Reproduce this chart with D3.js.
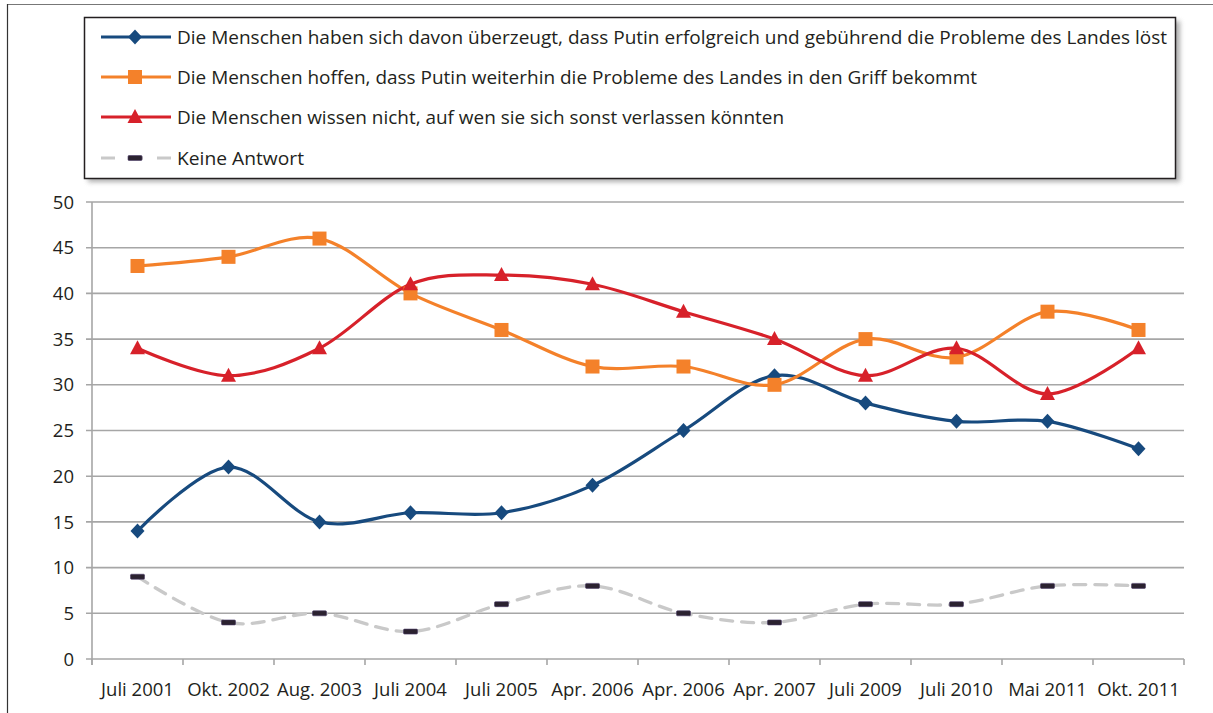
<!DOCTYPE html>
<html><head><meta charset="utf-8">
<script src="https://cdn.jsdelivr.net/npm/d3@7"></script>
<style>body{margin:0;background:#fff}svg{display:block}text{font-family:"Open Sans","Noto Sans",sans-serif;fill:#231f20}</style>
</head><body><svg id="c" width="1213" height="713"></svg>
<script>
const categories = ["Juli 2001","Okt. 2002","Aug. 2003","Juli 2004","Juli 2005","Apr. 2006","Apr. 2006","Apr. 2007","Juli 2009","Juli 2010","Mai 2011","Okt. 2011"];
const seriesNames = [
 "Die Menschen haben sich davon überzeugt, dass Putin erfolgreich und gebührend die Probleme des Landes löst",
 "Die Menschen hoffen, dass Putin weiterhin die Probleme des Landes in den Griff bekommt",
 "Die Menschen wissen nicht, auf wen sie sich sonst verlassen könnten",
 "Keine Antwort"];
const ueberzeugt = [14,21,15,16,16,19,25,31,28,26,26,23];
const hoffen = [43,44,46,40,36,32,32,30,35,33,38,36];
const wissenNicht = [34,31,34,41,42,41,38,35,31,34,29,34];
const keineAntwort = [9,4,5,3,6,8,5,4,6,6,8,8];
const yTicks = [0,5,10,15,20,25,30,35,40,45,50];

const series = [
 {name:seriesNames[0], values:ueberzeugt, color:"#174a7e", marker:"diamond"},
 {name:seriesNames[1], values:hoffen, color:"#f4812a", marker:"square"},
 {name:seriesNames[2], values:wissenNicht, color:"#d7212a", marker:"triangle"},
 {name:seriesNames[3], values:keineAntwort, color:"#c9c9c9", marker:"dash", dashed:true}
];

const svg = d3.select("#c");
const defs = svg.append("defs");
const f = defs.append("filter").attr("id","sh").attr("x","-5%").attr("y","-20%").attr("width","110%").attr("height","140%");
f.append("feGaussianBlur").attr("stdDeviation",2.5);

// outer frame
svg.append("line").attr("x1",7).attr("x2",1213).attr("y1",4.5).attr("y2",4.5).attr("stroke","#777").attr("stroke-width",1.2);
svg.append("line").attr("x1",7.5).attr("x2",7.5).attr("y1",4).attr("y2",713).attr("stroke","#333").attr("stroke-width",1.2);

const L=92,R=1184,T=202,B=659;
const x = d3.scaleBand().domain(d3.range(categories.length)).range([L,R]);
const y = d3.scaleLinear().domain([0,50]).range([B,T]);
const cx = i => x(i)+x.bandwidth()/2;

// gridlines
svg.append("g").selectAll("line").data(yTicks).join("line")
 .attr("x1",L-6).attr("x2",R).attr("y1",d=>y(d)).attr("y2",d=>y(d))
 .attr("stroke","#a6a6a6").attr("stroke-width",1.6);
// y axis line
svg.append("line").attr("x1",L).attr("x2",L).attr("y1",T).attr("y2",B+6).attr("stroke","#a6a6a6").attr("stroke-width",1.6);
// x ticks
const bounds = d3.range(categories.length+1).map(i=> i<categories.length? x(i): R);
svg.append("g").selectAll("line").data(bounds).join("line")
 .attr("x1",d=>d).attr("x2",d=>d).attr("y1",B).attr("y2",B+6).attr("stroke","#a6a6a6").attr("stroke-width",1.6);
// y labels
svg.append("g").selectAll("text").data(yTicks).join("text")
 .attr("x",74).attr("y",d=>y(d)).attr("dy","0.36em").attr("text-anchor","end").attr("font-size",18.5).text(d=>d);
// x labels
svg.append("g").selectAll("text").data(categories).join("text")
 .attr("x",(d,i)=>cx(i)).attr("y",696).attr("text-anchor","middle").attr("font-size",18.5).text(d=>d);

function drawMarker(g, type, color, px, py){
 if(type==="diamond"){
  g.append("path").attr("d",`M${px},${py-7.5}L${px+7},${py}L${px},${py+7.5}L${px-7},${py}Z`).attr("fill",color);
 } else if(type==="square"){
  g.append("rect").attr("x",px-7).attr("y",py-7).attr("width",14).attr("height",14).attr("fill",color);
 } else if(type==="triangle"){
  g.append("path").attr("d",`M${px},${py-8}L${px+7.5},${py+6}L${px-7.5},${py+6}Z`).attr("fill",color);
 } else {
  g.append("rect").attr("x",px-7).attr("y",py-2.5).attr("width",14).attr("height",5).attr("rx",1).attr("fill","#2b2230").attr("stroke","#4a3a66").attr("stroke-width",0.6);
 }
}

const line = d3.line().x((d,i)=>cx(i)).y(d=>y(d)).curve(d3.curveCardinal.tension(0));
const order=[3,0,1,2];
order.forEach(k=>{
 const s=series[k];
 svg.append("path").attr("d",line(s.values)).attr("fill","none").attr("stroke",s.color)
  .attr("stroke-width",s.dashed?3.3:3.2).attr("stroke-dasharray",s.dashed?"12,9":null).attr("stroke-linecap",s.dashed?"round":"butt");
});
order.forEach(k=>{
 const s=series[k];
 const g=svg.append("g");
 s.values.forEach((v,i)=>drawMarker(g,s.marker,s.color,cx(i),y(v)));
});

// legend
const lg = svg.append("g");
lg.append("rect").attr("x",88).attr("y",21).attr("width",1092).attr("height",161).attr("fill","#777").attr("opacity",0.6).attr("filter","url(#sh)");
lg.append("rect").attr("x",84.5).attr("y",17.5).attr("width",1091).attr("height",161).attr("fill","#fff").attr("stroke","#231f20").attr("stroke-width",1.5);
const rowsY=[37,77,117,158];
const textW=[990,800,607,127];
series.forEach((s,i)=>{
 const yy=rowsY[i];
 if(s.dashed){
  lg.append("line").attr("x1",101).attr("x2",171).attr("y1",yy).attr("y2",yy).attr("stroke",s.color).attr("stroke-width",3.2).attr("stroke-dasharray","14,14");
 } else {
  lg.append("line").attr("x1",101).attr("x2",171).attr("y1",yy).attr("y2",yy).attr("stroke",s.color).attr("stroke-width",3.2);
 }
 drawMarker(lg,s.marker,s.color,135,yy);
 lg.append("text").attr("x",177).attr("y",yy).attr("dy","0.36em").attr("font-size",19)
  .attr("textLength",textW[i]).attr("lengthAdjust","spacingAndGlyphs").text(s.name);
});
</script></body></html>
